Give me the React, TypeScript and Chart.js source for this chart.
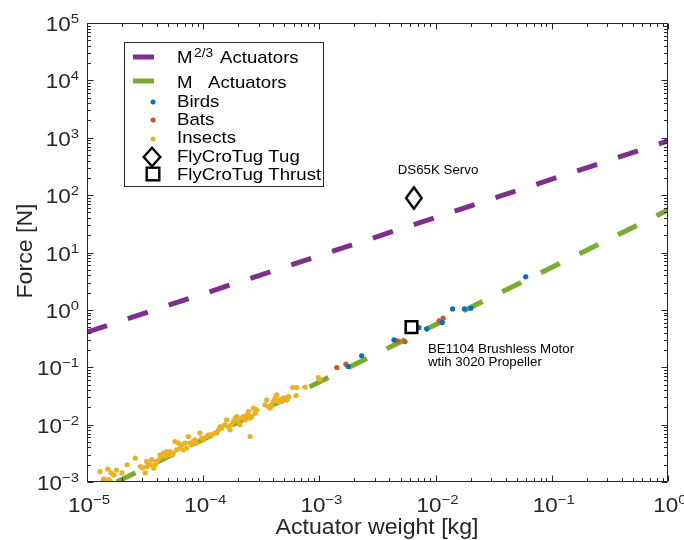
import React, { useEffect, useRef } from "react";
import { Chart, registerables } from "chart.js";
Chart.register(...registerables);

// ---------- data (mass in kg, force in N) ----------
const insectMass = [
  1.29e-5, 1.51e-5, 1.61e-5, 1.70e-5, 1.79e-5, 1.54e-5, 1.59e-5, 1.40e-5, 2.00e-5, 2.21e-5,
  2.60e-5, 2.88e-5, 3.00e-5, 3.28e-5, 3.17e-5, 3.50e-5, 3.62e-5, 3.75e-5, 1.38e-5, 1.47e-5,
  3.26e-5, 4.25e-5,
  3.61e-5, 3.85e-5, 3.98e-5, 4.25e-5, 4.54e-5, 4.69e-5, 4.85e-5, 5.01e-5, 5.18e-5, 5.35e-5,
  5.53e-5, 5.71e-5, 5.91e-5, 6.11e-5, 6.31e-5, 6.53e-5, 6.75e-5, 6.97e-5, 7.21e-5, 7.45e-5,
  7.69e-5, 7.96e-5, 8.22e-5, 8.49e-5, 8.79e-5, 9.37e-5, 9.70e-5, 1.00e-4, 1.07e-4, 1.11e-4,
  1.18e-4, 1.26e-4, 1.35e-4, 1.40e-4,
  1.31e-4, 1.44e-4, 1.54e-4, 1.59e-4, 1.64e-4, 1.70e-4, 1.76e-4, 1.82e-4, 1.88e-4, 1.94e-4,
  2.01e-4, 2.07e-4, 2.14e-4, 2.21e-4, 2.29e-4, 2.37e-4, 2.45e-4, 2.53e-4, 2.61e-4, 2.70e-4,
  2.79e-4, 2.88e-4, 2.53e-4, 3.40e-4, 3.52e-4, 3.63e-4, 3.76e-4, 3.88e-4, 4.01e-4, 4.15e-4,
  4.29e-4, 4.43e-4, 4.58e-4, 4.89e-4,
  4.74e-4, 5.06e-4, 5.24e-4, 5.40e-4, 5.89e-4, 6.38e-4, 6.30e-4, 7.52e-4, 9.79e-4, 1.01e-3,
];
const insectForce = [
  1.52e-3, 1.68e-3, 1.44e-3, 1.33e-3, 1.62e-3, 1.10e-3, 1.02e-3, 1.14e-3, 1.44e-3, 2.00e-3,
  2.60e-3, 1.86e-3, 1.75e-3, 1.86e-3, 1.44e-3, 2.00e-3, 2.44e-3, 1.75e-3, 1.07e-3, 1.01e-3,
  2.28e-3, 2.60e-3,
  2.44e-3, 2.00e-3, 2.28e-3, 2.98e-3, 3.19e-3, 2.78e-3, 3.40e-3, 2.98e-3, 3.40e-3, 2.98e-3,
  3.19e-3, 5.08e-3, 3.64e-3, 4.76e-3, 3.90e-3, 4.45e-3, 3.64e-3, 4.76e-3, 3.90e-3, 6.21e-3,
  4.76e-3, 4.45e-3, 5.08e-3, 5.43e-3, 4.76e-3, 7.11e-3, 5.82e-3, 5.43e-3, 6.21e-3, 6.64e-3,
  6.64e-3, 7.11e-3, 8.11e-3, 9.27e-3,
  7.11e-3, 8.69e-3, 9.93e-3, 1.21e-2, 9.27e-3, 8.11e-3, 9.93e-3, 1.13e-2, 1.30e-2, 1.38e-2,
  1.13e-2, 9.93e-3, 1.30e-2, 1.38e-2, 1.21e-2, 1.48e-2, 1.69e-2, 1.30e-2, 1.38e-2, 1.94e-2,
  1.58e-2, 1.81e-2, 6.21e-3, 2.21e-2, 2.70e-2, 2.07e-2, 1.94e-2, 2.21e-2, 2.53e-2, 2.89e-2,
  3.30e-2, 2.53e-2, 2.70e-2, 2.89e-2,
  2.53e-2, 2.89e-2, 2.70e-2, 3.09e-2, 4.43e-2, 4.43e-2, 3.21e-2, 4.50e-2, 6.62e-2, 6.10e-2,
];
const birdMass = [1.77e-3, 2.31e-3, 4.38e-3, 7.19e-3, 8.38e-3, 1.14e-2, 1.40e-2, 1.77e-2, 2.01e-2, 5.96e-2];
const birdForce = [0.103, 0.158, 0.30, 0.492, 0.467, 0.601, 1.04, 1.04, 1.07, 3.76];
const batMass = [1.41e-3, 1.69e-3, 4.68e-3, 5.45e-3, 1.07e-2, 1.16e-2];
const batForce = [0.0988, 0.113, 0.288, 0.280, 0.643, 0.716];

const m23Mass = [1e-5, 1];
const m23Force = [0.41, 880];
const m1Mass = [1.8e-5, 1];
const m1Force = [1.0e-3, 55];

const tugMass = [6.5e-3];
const tugForce = [89];
const thrustMass = [6.2e-3];
const thrustForce = [0.5];

const xTickExps = [-5, -4, -3, -2, -1, 0];
const yTickExps = [-3, -2, -1, 0, 1, 2, 3, 4, 5];

const legendLabels = ["Actuators", "Actuators", "Birds", "Bats", "Insects", "FlyCroTug Tug", "FlyCroTug Thrust"];

const PURPLE = "#7E2F8E";
const GREEN = "#77AC30";
const BLUE = "#0072BD";
const RED = "#D95319";
const YELLOW = "#EDB120";
const AXIS = "#262626";
const FONT = '"Liberation Sans", Arial, Helvetica, sans-serif';
const SX = 1.15;

function pts(xs: number[], ys: number[]) {
  return xs.map((x, i) => ({ x, y: ys[i] }));
}

function measure(ctx: CanvasRenderingContext2D, s: string, size: number, sx: number) {
  ctx.save();
  ctx.font = `${size}px ${FONT}`;
  const w = ctx.measureText(s).width * sx;
  ctx.restore();
  return w;
}

function txt(
  ctx: CanvasRenderingContext2D,
  s: string,
  x: number,
  y: number,
  size: number,
  align: "left" | "right" | "center",
  sx = 1,
  color = AXIS
) {
  const w = measure(ctx, s, size, sx);
  let left = x;
  if (align === "right") left = x - w;
  else if (align === "center") left = x - w / 2;
  ctx.save();
  ctx.font = `${size}px ${FONT}`;
  ctx.fillStyle = color;
  ctx.textBaseline = "alphabetic";
  ctx.textAlign = "left";
  ctx.translate(left, y);
  ctx.scale(sx, 1);
  ctx.fillText(s, 0, 0);
  ctx.restore();
  return w;
}

function expStr(e: number) {
  return e < 0 ? "\u2212" + Math.abs(e) : String(e);
}

function drawPow(ctx: CanvasRenderingContext2D, e: number, x: number, baseline: number, mode: "right" | "center") {
  const bs = 19.5, ss = 13;
  const wb = measure(ctx, "10", bs, SX);
  const es = expStr(e);
  const ws = measure(ctx, es, ss, SX);
  const left = mode === "right" ? x - wb - ws : x - (wb + ws) / 2;
  txt(ctx, "10", left, baseline, bs, "left", SX);
  txt(ctx, es, left + wb, baseline - 8, ss, "left", SX);
}

function diamondPath(ctx: CanvasRenderingContext2D, cx: number, cy: number, hw: number, hh: number) {
  ctx.beginPath();
  ctx.moveTo(cx, cy - hh);
  ctx.lineTo(cx + hw, cy);
  ctx.lineTo(cx, cy + hh);
  ctx.lineTo(cx - hw, cy);
  ctx.closePath();
}

const framePlugin = {
  id: "frame",
  afterDatasetsDraw(chart: any) {
    const ctx: CanvasRenderingContext2D = chart.ctx;
    const a = chart.chartArea;
    const xs = chart.scales.x;
    const ys = chart.scales.y;
    const L = Math.round(a.left) + 0.5;
    const R = Math.round(a.right) - 0.5;
    const T = Math.round(a.top) + 0.5;
    const B = Math.round(a.bottom) - 0.5;
    ctx.save();
    ctx.strokeStyle = AXIS;
    ctx.lineWidth = 1;
    ctx.beginPath();
    ctx.rect(L, T, R - L, B - T);
    // x ticks
    for (let i = 0; i < xTickExps.length; i++) {
      const e = xTickExps[i];
      for (let k = 1; k <= 9; k++) {
        const v = k * Math.pow(10, e);
        if (v > 1.0000001) break;
        const px = Math.round(xs.getPixelForValue(v)) + 0.5;
        const len = k === 1 ? 6 : 3.5;
        ctx.moveTo(px, B);
        ctx.lineTo(px, B - len);
        ctx.moveTo(px, T);
        ctx.lineTo(px, T + len);
      }
    }
    for (let i = 0; i < yTickExps.length; i++) {
      const e = yTickExps[i];
      for (let k = 1; k <= 9; k++) {
        const v = k * Math.pow(10, e);
        if (v > 1.0000001e5) break;
        const py = Math.round(ys.getPixelForValue(v)) + 0.5;
        const len = k === 1 ? 6 : 3.5;
        ctx.moveTo(L, py);
        ctx.lineTo(L + len, py);
        ctx.moveTo(R, py);
        ctx.lineTo(R - len, py);
      }
    }
    ctx.stroke();

    // tick labels
    for (const e of xTickExps) {
      const px = xs.getPixelForValue(Math.pow(10, e));
      drawPow(ctx, e, px + 2, a.bottom + 30, "center");
    }
    for (const e of yTickExps) {
      const py = ys.getPixelForValue(Math.pow(10, e));
      drawPow(ctx, e, a.left - 8, py + 8, "right");
    }

    // axis titles
    txt(ctx, "Actuator weight [kg]", 377, 534, 22, "center", 1.05);
    ctx.save();
    ctx.translate(32, 251);
    ctx.rotate(-Math.PI / 2);
    txt(ctx, "Force [N]", 0, 0, 22, "center", 1.05);
    ctx.restore();

    // annotations
    txt(ctx, "DS65K Servo", 438, 174, 13.3, "center", 1, "#000");
    txt(ctx, "BE1104 Brushless Motor", 428, 353, 13.3, "left", 1, "#000");
    txt(ctx, "wtih 3020 Propeller", 428, 366, 13.3, "left", 1, "#000");
    ctx.restore();
  },
  afterDraw(chart: any) {
    const ctx: CanvasRenderingContext2D = chart.ctx;
    ctx.save();
    ctx.fillStyle = "#fff";
    ctx.fillRect(124, 42, 199, 144);
    ctx.strokeStyle = AXIS;
    ctx.lineWidth = 1;
    ctx.strokeRect(124.5, 42.5, 199, 144);

    ctx.lineWidth = 5;
    ctx.lineCap = "butt";
    ctx.strokeStyle = PURPLE;
    ctx.beginPath();
    ctx.moveTo(133, 57);
    ctx.lineTo(154, 57);
    ctx.stroke();
    ctx.strokeStyle = GREEN;
    ctx.beginPath();
    ctx.moveTo(133, 81);
    ctx.lineTo(154, 81);
    ctx.stroke();

    const fs = 16.2;
    txt(ctx, "M", 177, 63, fs, "left", SX, "#000");
    txt(ctx, "2/3", 194, 57, 12, "left", SX, "#000");
    txt(ctx, legendLabels[0], 220, 63, fs, "left", SX, "#000");
    txt(ctx, "M", 177, 88, fs, "left", SX, "#000");
    txt(ctx, legendLabels[1], 208, 88, fs, "left", SX, "#000");

    const dots: [string, number][] = [[BLUE, 102], [RED, 120], [YELLOW, 139]];
    dots.forEach(([c, y]) => {
      ctx.fillStyle = c;
      ctx.beginPath();
      ctx.arc(153, y, 2.5, 0, Math.PI * 2);
      ctx.fill();
    });
    txt(ctx, legendLabels[2], 177, 107, fs, "left", SX, "#000");
    txt(ctx, legendLabels[3], 177, 125, fs, "left", SX, "#000");
    txt(ctx, legendLabels[4], 177, 143, fs, "left", SX, "#000");

    ctx.strokeStyle = "#000";
    ctx.lineWidth = 2.4;
    diamondPath(ctx, 152, 157, 8.3, 9.3);
    ctx.stroke();
    ctx.strokeRect(153 - 6.3, 174 - 6.3, 12.6, 12.6);
    txt(ctx, legendLabels[5], 177, 162, fs, "left", SX, "#000");
    txt(ctx, legendLabels[6], 177, 180, fs, "left", SX, "#000");
    ctx.restore();
  },
};

export default function App() {
  const ref = useRef<HTMLCanvasElement>(null);
  useEffect(() => {
    const canvas = ref.current;
    if (!canvas) return;
    const dia = document.createElement("canvas");
    dia.width = 24;
    dia.height = 30;
    const dctx = dia.getContext("2d")!;
    dctx.strokeStyle = "#000";
    dctx.lineWidth = 2.4;
    diamondPath(dctx, 12, 15, 7.8, 10.8);
    dctx.stroke();

    const chart = new Chart(canvas, {
      type: "scatter",
      data: {
        datasets: [
          {
            label: "M2/3 Actuators",
            data: pts(m23Mass, m23Force),
            showLine: true,
            borderColor: PURPLE,
            borderWidth: 5,
            borderDash: [21, 22],
            borderCapStyle: "butt",
            pointRadius: 0,
            order: 5,
          },
          {
            label: "M Actuators",
            data: pts(m1Mass, m1Force),
            showLine: true,
            borderColor: GREEN,
            borderWidth: 5,
            borderDash: [21, 22],
            borderCapStyle: "butt",
            pointRadius: 0,
            order: 4,
          },
          {
            label: "Insects",
            data: pts(insectMass, insectForce),
            backgroundColor: YELLOW,
            borderWidth: 0,
            pointRadius: 2.6,
            order: 3,
          },
          {
            label: "Bats",
            data: pts(batMass, batForce),
            backgroundColor: RED,
            borderWidth: 0,
            pointRadius: 2.6,
            order: 2,
          },
          {
            label: "Birds",
            data: pts(birdMass, birdForce),
            backgroundColor: BLUE,
            borderWidth: 0,
            pointRadius: 2.6,
            order: 1,
          },
          {
            label: "FlyCroTug Tug",
            data: pts(tugMass, tugForce),
            pointStyle: dia as any,
            pointRadius: 10,
            order: 0,
          },
          {
            label: "FlyCroTug Thrust",
            data: pts(thrustMass, thrustForce),
            pointStyle: "rect",
            pointRadius: 8.2,
            borderColor: "#000",
            backgroundColor: "rgba(0,0,0,0)",
            borderWidth: 2.5,
            order: 0,
          },
        ],
      } as any,
      options: {
        animation: false,
        responsive: false,
        devicePixelRatio: 1,
        events: [],
        layout: { padding: { left: 87, top: 23, right: 16, bottom: 58 } },
        scales: {
          x: { type: "logarithmic", min: 1e-5, max: 1, display: false },
          y: { type: "logarithmic", min: 1e-3, max: 1e5, display: false },
        },
        plugins: { legend: { display: false }, tooltip: { enabled: false } },
      } as any,
      plugins: [framePlugin],
    });
    return () => chart.destroy();
  }, []);
  return (
    <div style={{ position: "absolute", left: 0, top: 0, width: 684, height: 540, background: "#fff" }}>
      <canvas ref={ref} width={684} height={540} style={{ width: 684, height: 540, display: "block" }} />
    </div>
  );
}
